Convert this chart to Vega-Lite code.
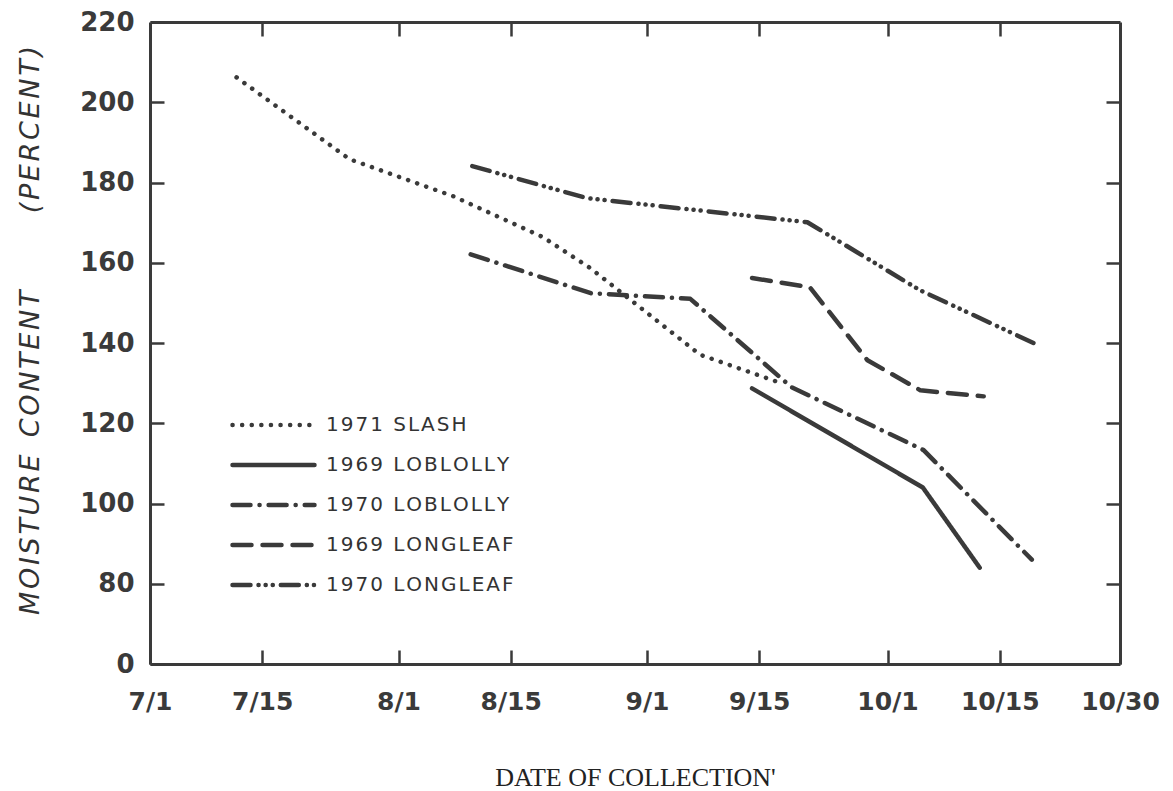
{
  "$schema": "https://vega.github.io/schema/vega-lite/v6.json",
  "autosize": "none",
  "width": 970,
  "height": 642,
  "padding": {"left": 150, "top": 22, "right": 53, "bottom": 127},
  "background": "white",
  "config": {
    "view": {"stroke": null},
    "axis": {
      "domainColor": "#3a3a3a",
      "domainWidth": 3,
      "tickColor": "#3a3a3a",
      "tickWidth": 2.5,
      "tickSize": -14,
      "grid": false,
      "labelColor": "#3a3a3a",
      "labelFont": "DejaVu Sans",
      "titleColor": "#333333"
    }
  },
  "data": {
    "values": [
      {"series": "1971 SLASH", "day": 10.8, "value": 206.2},
      {"series": "1971 SLASH", "day": 24.9, "value": 185.8},
      {"series": "1971 SLASH", "day": 37.8, "value": 176.6},
      {"series": "1971 SLASH", "day": 49.0, "value": 166.4},
      {"series": "1971 SLASH", "day": 54.9, "value": 158.7},
      {"series": "1971 SLASH", "day": 68.6, "value": 137.1},
      {"series": "1971 SLASH", "day": 79.0, "value": 129.8},
      {"series": "1969 LOBLOLLY", "day": 75.1, "value": 128.7},
      {"series": "1969 LOBLOLLY", "day": 96.4, "value": 104.0},
      {"series": "1969 LOBLOLLY", "day": 103.5, "value": 84.0},
      {"series": "1970 LOBLOLLY", "day": 40.0, "value": 162.1},
      {"series": "1970 LOBLOLLY", "day": 55.0, "value": 152.4},
      {"series": "1970 LOBLOLLY", "day": 67.4, "value": 151.0},
      {"series": "1970 LOBLOLLY", "day": 80.0, "value": 129.0},
      {"series": "1970 LOBLOLLY", "day": 96.5, "value": 113.3},
      {"series": "1970 LOBLOLLY", "day": 110.0, "value": 86.0},
      {"series": "1969 LONGLEAF", "day": 75.1, "value": 156.2},
      {"series": "1969 LONGLEAF", "day": 82.3, "value": 153.9},
      {"series": "1969 LONGLEAF", "day": 89.5, "value": 135.7},
      {"series": "1969 LONGLEAF", "day": 96.1, "value": 128.2},
      {"series": "1969 LONGLEAF", "day": 104.0, "value": 126.7},
      {"series": "1970 LONGLEAF", "day": 40.2, "value": 184.1},
      {"series": "1970 LONGLEAF", "day": 54.5, "value": 176.1},
      {"series": "1970 LONGLEAF", "day": 82.0, "value": 170.1},
      {"series": "1970 LONGLEAF", "day": 96.0, "value": 153.2},
      {"series": "1970 LONGLEAF", "day": 110.2, "value": 140.0}
    ]
  },
  "layer": [
    {
      "mark": {"type": "line", "color": "#3a3a3a", "strokeWidth": 4.5, "strokeCap": "round", "strokeJoin": "round"},
      "encoding": {
        "x": {
          "field": "day", "type": "quantitative",
          "scale": {"domain": [0, 121], "nice": false, "zero": false},
          "axis": {
            "orient": "bottom",
            "values": [0, 14, 31, 45, 62, 76, 92, 106, 121],
            "labelExpr": "datum.value == 0 ? '7/1' : datum.value == 14 ? '7/15' : datum.value == 31 ? '8/1' : datum.value == 45 ? '8/15' : datum.value == 62 ? '9/1' : datum.value == 76 ? '9/15' : datum.value == 92 ? '10/1' : datum.value == 106 ? '10/15' : '10/30'",
            "labelFontSize": 25,
            "labelFontWeight": "bold",
            "labelPadding": 39,
            "labelFlush": false,
            "labelOverlap": false,
            "title": "DATE OF COLLECTION'",
            "titleFont": "Liberation Serif",
            "titleFontSize": 26,
            "titleFontWeight": "normal",
            "titleColor": "#222222",
            "titleBaseline": "alphabetic",
            "titleY": 121,
            "titleX": 485
          }
        },
        "y": {
          "field": "value", "type": "quantitative",
          "scale": {"domain": [60, 220], "nice": false, "zero": false},
          "axis": {
            "orient": "left",
            "values": [60, 80, 100, 120, 140, 160, 180, 200, 220],
            "labelExpr": "datum.value == 60 ? '0' : datum.label",
            "labelFontSize": 26,
            "labelFontWeight": "bold",
            "labelPadding": 30,
            "labelFlush": false,
            "labelOverlap": false,
            "title": "M\u200aO\u200aI\u200aS\u200aT\u200aU\u200aR\u200aE\u00a0\u00a0C\u200aO\u200aN\u200aT\u200aE\u200aN\u200aT\u00a0\u00a0\u00a0\u00a0\u00a0\u00a0\u00a0\u00a0\u00a0(\u200aP\u200aE\u200aR\u200aC\u200aE\u200aN\u200aT\u200a)",
            "titleFont": "DejaVu Sans",
            "titleFontStyle": "italic",
            "titleFontSize": 27,
            "titleFontWeight": "normal",
            "titleX": -120,
            "titleY": 308,
            "titleAlign": "center",
            "titleBaseline": "middle",
            "titleAngle": -90
          }
        },
        "strokeDash": {
          "field": "series", "type": "nominal",
          "scale": {
            "domain": ["1971 SLASH", "1969 LOBLOLLY", "1970 LOBLOLLY", "1969 LONGLEAF", "1970 LONGLEAF"],
            "range": [[0.1, 9.5], [1, 0], [18, 9, 0.1, 9], [19, 11], [18, 8, 0.1, 7, 0.1, 7, 0.1, 8]]
          },
          "legend": {
            "title": null,
            "orient": "none",
            "legendX": 80,
            "legendY": 393,
            "padding": 0,
            "symbolType": "stroke",
            "symbolSize": 6724,
            "symbolStrokeWidth": 4.5,
            "symbolStrokeColor": "#3a3a3a",
            "clipHeight": 20,
            "rowPadding": 20,
            "labelFont": "DejaVu Sans",
            "labelFontSize": 20,
            "labelColor": "#333333",
            "labelOffset": 9,
            "labelLimit": 400,
            "labelExpr": "join(split(datum.label, ''), '\u200a')",
            "encode": {"symbols": {"update": {"strokeCap": {"value": "round"}}}}
          }
        },
        "detail": {"field": "series"}
      }
    },
    {
      "mark": {"type": "line", "opacity": 0},
      "encoding": {
        "x": {
          "field": "day", "type": "quantitative",
          "axis": {"orient": "top", "values": [14, 31, 45, 62, 76, 92, 106], "labels": false, "title": null}
        },
        "y": {
          "field": "value", "type": "quantitative",
          "axis": {"orient": "right", "values": [80, 100, 120, 140, 160, 180, 200], "labels": false, "title": null}
        },
        "detail": {"field": "series"}
      }
    }
  ],
  "resolve": {"axis": {"x": "independent", "y": "independent"}}
}
